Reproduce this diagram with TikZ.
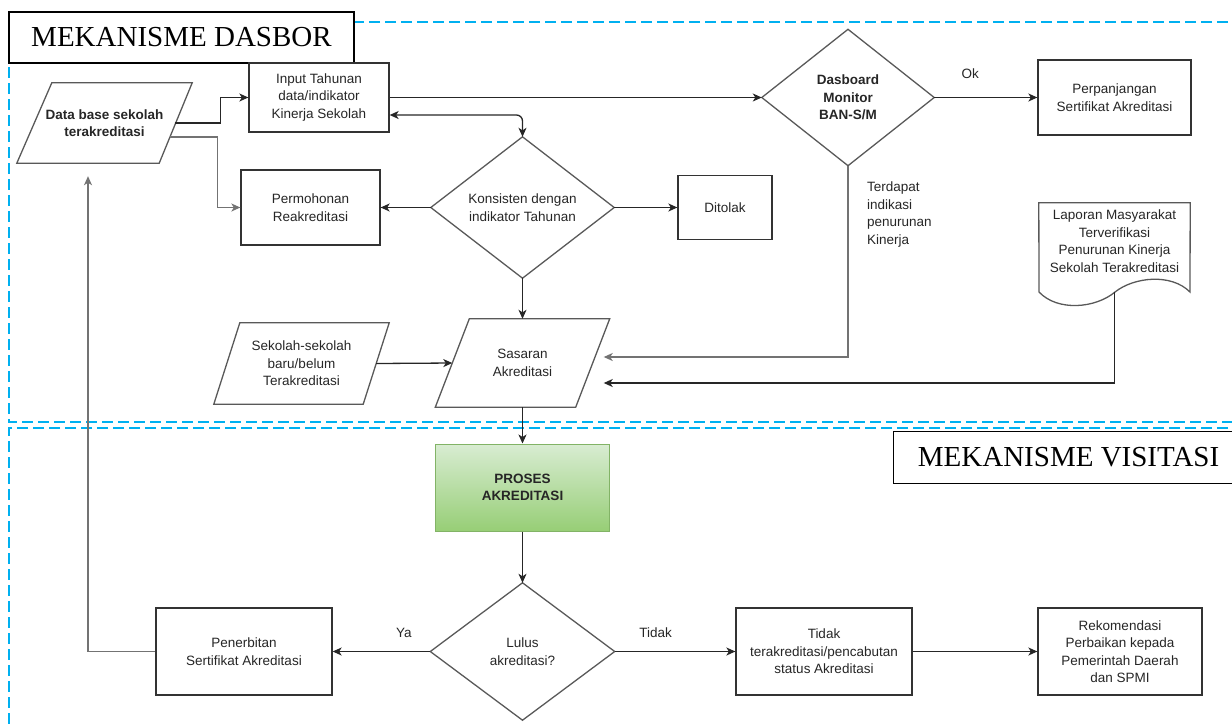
\documentclass[tikz,border=0pt]{standalone}
\usepackage{fontspec}
\setmainfont{Liberation Sans}
\newfontfamily\titlefont{Liberation Serif}
\usetikzlibrary{arrows.meta}
\definecolor{zonec}{RGB}{0,176,240}
\definecolor{gtop}{RGB}{216,236,210}
\definecolor{gbot}{RGB}{151,206,118}
\definecolor{gedge}{RGB}{130,179,102}
\tikzset{
 txt/.style={font=\fontsize{13.5}{17.5}\selectfont, text=black!85, align=center, inner sep=0pt},
 bld/.style={font=\fontsize{13.5}{17.5}\selectfont\bfseries},
 rbox/.style={txt, draw=black!80, line width=1.3pt, fill=white},
 hold/.style={txt, draw=none},
 shp/.style={draw=black!65, line width=1.3pt},
 arr/.style={line width=1.3pt, draw=black!85, ->},
 garr/.style={arr, draw=black!55},
 lbl/.style={txt},
 zone/.style={draw=zonec, line width=2pt, dash pattern=on 11pt off 5pt},
 ttl/.style={draw=black, line width=1.2pt, fill=white, font=\titlefont\fontsize{29}{30}\selectfont, inner sep=0pt},
}
\begin{document}
\begin{tikzpicture}[x=1pt,y=-1pt,>={Stealth[length=9pt,width=8pt,inset=2.5pt]}]
\useasboundingbox (0,0) rectangle (1232,724);
% zones
\draw[zone] (1260,22) -- (9,22) -- (9,422) -- (1260,422);
\draw[zone] (1260,428) -- (9,428) -- (9,760);
% titles
\node[ttl, minimum width=345pt, minimum height=51pt] (t1) at (181.5,37.5) {MEKANISME DASBOR};
\node[ttl, minimum width=350pt, minimum height=52pt, anchor=north west] (t2) at (893,431) {MEKANISME VISITASI};

% nodes
\node[hold, bld, minimum width=175pt, minimum height=80pt] (db) at (104.5,123) {Data base sekolah\\terakreditasi};
\draw[shp] ([xshift=35pt]db.north west) -- (db.north east) -- ([xshift=-33pt]db.south east) -- (db.south west) -- cycle;

\node[rbox, minimum width=140pt, minimum height=69pt] (inp) at (319,97.5) {Input Tahunan\\data/indikator\\Kinerja Sekolah};
\node[rbox, minimum width=139pt, minimum height=75pt] (perm) at (310.5,207.5) {Permohonan\\Reakreditasi};

\node[hold, minimum width=183pt, minimum height=141pt] (kons) at (522.5,207.5) {Konsisten dengan\\indikator Tahunan};
\draw[shp] (kons.north) -- (kons.east) -- (kons.south) -- (kons.west) -- cycle;

\node[rbox, minimum width=94pt, minimum height=64pt] (dit) at (725,207.5) {Ditolak};

\node[hold, bld, minimum width=172pt, minimum height=136pt] (dasb) at (848,97.5) {Dasboard\\Monitor\\BAN-S/M};
\draw[shp] (dasb.north) -- (dasb.east) -- (dasb.south) -- (dasb.west) -- cycle;

\node[rbox, minimum width=153pt, minimum height=75pt] (perp) at (1114.5,97.5) {Perpanjangan\\Sertifikat Akreditasi};

\node[hold, minimum width=151pt, minimum height=76pt] (lap) at (1114.5,241) {Laporan Masyarakat\\Terverifikasi\\Penurunan Kinerja\\Sekolah Terakreditasi};
\draw[shp] (1039,292) -- (lap.north west) -- (lap.north east) -- (1190,292)
  .. controls (1171,273) and (1134,277) .. (1115,292)
  .. controls (1096,308) and (1058,312) .. (1039,292) -- cycle;

\node[txt, anchor=north west, align=left] (tlab) at (867,182) {Terdapat\\indikasi\\penurunan\\Kinerja};

\node[hold, minimum width=175pt, minimum height=81pt] (sek) at (301.5,363.5) {Sekolah-sekolah\\baru/belum\\Terakreditasi};
\draw[shp] ([xshift=26pt]sek.north west) -- (sek.north east) -- ([xshift=-26pt]sek.south east) -- (sek.south west) -- cycle;

\node[hold, minimum width=174pt, minimum height=88pt] (sas) at (522.5,363) {Sasaran\\Akreditasi};
\draw[shp] ([xshift=34pt]sas.north west) -- (sas.north east) -- ([xshift=-34pt]sas.south east) -- (sas.south west) -- cycle;

\node[txt, bld, draw=gedge, line width=1pt, top color=gtop, bottom color=gbot, minimum width=174pt, minimum height=87pt] (pro) at (522.5,487.5) {PROSES\\AKREDITASI};

\node[hold, minimum width=184pt, minimum height=137pt] (lul) at (522.5,651.5) {Lulus\\akreditasi?};
\draw[shp] (lul.north) -- (lul.east) -- (lul.south) -- (lul.west) -- cycle;

\node[rbox, minimum width=176pt, minimum height=87pt] (pen) at (244,651.5) {Penerbitan\\Sertifikat Akreditasi};
\node[rbox, minimum width=176pt, minimum height=87pt] (tid) at (824,651.5) {Tidak\\terakreditasi/pencabutan\\status Akreditasi};
\node[rbox, minimum width=164pt, minimum height=87pt] (rek) at (1120,651.5) {Rekomendasi\\Perbaikan kepada\\Pemerintah Daerah\\dan SPMI};

% connectors
\draw[arr] ([xshift=-17.5pt]db.east) -- ++(45.5,0) |- (inp.west);
\draw[garr] ([xshift=-22pt,yshift=-14pt]db.east) -- ++(47,0) |- (perm.west);
\draw[arr, <->, rounded corners=6pt] ([yshift=-17.5pt]inp.east) -| (kons.north);
\draw[arr] (inp.east) -- (dasb.west);
\draw[arr] (dasb.east) -- node[lbl, pos=0.35, above=18.5pt] {Ok} (perp.west);
\draw[arr] (kons.west) -- (perm.east);
\draw[arr] (kons.east) -- (dit.west);
\draw[arr] (kons.south) -- (sas.north);
\draw[garr] (dasb.south) |- ([xshift=-6pt,yshift=6pt]sas.east);
\draw[arr] ([yshift=-13pt]lap.south) |- ([xshift=-6pt,yshift=-20pt]sas.east);
\draw[arr] ([xshift=-13pt]sek.east) -- ([xshift=17pt]sas.west);
\draw[arr] (sas.south) -- (pro.north);
\draw[arr] (pro.south) -- (lul.north);
\draw[arr] (lul.west) -- node[lbl, pos=0.27, above=13pt] {Ya} (pen.east);
\draw[arr] (lul.east) -- node[lbl, pos=0.34, above=13pt] {Tidak} (tid.west);
\draw[arr] (tid.east) -- (rek.west);
\draw[garr] (pen.west) -| ([xshift=-16.5pt,yshift=-13pt]db.south);
\end{tikzpicture}
\end{document}
